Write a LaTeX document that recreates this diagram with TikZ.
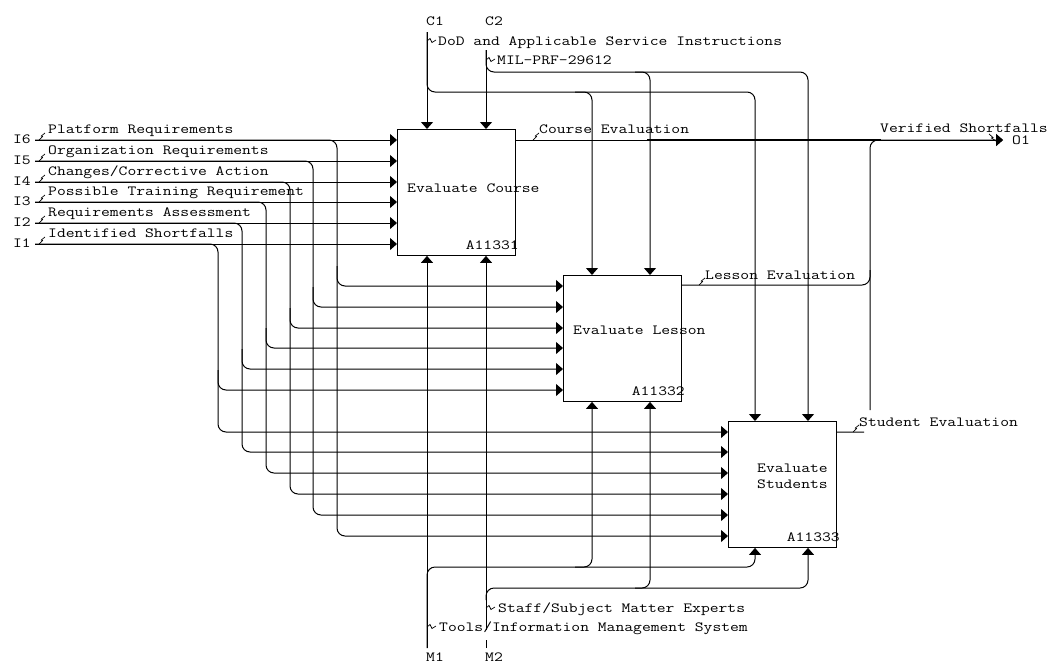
\documentclass[tikz,border=0pt]{standalone}
\usepackage{fontspec}
\setmonofont[FakeStretch=1.223]{Latin Modern Mono}
\usetikzlibrary{arrows.meta}
\begin{document}
\begin{tikzpicture}[x=1pt,y=-1pt,
  every node/.style={font=\ttfamily\fontsize{14}{16}\selectfont, inner sep=0pt},
  lbl/.style={anchor=base west},
  num/.style={anchor=base east},
  func/.style={draw, line width=0.9pt, minimum height=126pt, anchor=north west},
  flow/.style={line width=1pt, rounded corners=8pt},
  arr/.style={flow, -{Triangle[length=7pt,width=12pt]}},
  sq/.style={line width=0.7pt},
  heavy/.style={line width=2.4pt},
  zig/.pic={\draw[sq] (0,0) -- (3.5,-3.5) -- (2.3,-4) -- (6,-7);},
  hzig/.pic={\draw[sq] (0,0) -- (3,-2.5) -- (5,1.5) -- (9,-1);}
]
\useasboundingbox (0,0) rectangle (1054,665);

% activity boxes
\node[func, minimum width=118pt] (b1) at (397,129) {};
\node[func, minimum width=118pt] (b2) at (563,275) {};
\node[func, minimum width=108pt] (b3) at (728,421) {};

\node[lbl] (t1) at (407,192) {Evaluate Course};
\node[lbl] (t2) at (573,334) {Evaluate Lesson};
\node[lbl] (t3a) at (757,472) {Evaluate};
\node[lbl] (t3b) at (757,488) {Students};

\node[num] (id1) at (b1.south east) [xshift=3pt, yshift=6pt] {A11331};
\node[num] (id2) at (b2.south east) [xshift=3pt, yshift=6pt] {A11332};
\node[num] (id3) at (b3.south east) [xshift=3pt, yshift=6pt] {A11333};

% inputs and their branches to the lower boxes
\foreach \n/\y/\x/\ya/\yb/\txt in {
  6/140/337/286/536/Platform Requirements,
  5/161/313/307/515/Organization Requirements,
  4/182/290/328/494/Changes\slash Corrective Action,
  3/202/266/348/473/Possible Training Requirement,
  2/223/242/369/452/Requirements Assessment,
  1/244/218/390/432/Identified Shortfalls} {
  \coordinate (I\n) at (35,\y);
  \node[num] (nI\n) at (31,\y+3.5) {I\n};
  \node[lbl] (lI\n) at (48,\y-6.5) {\txt};
  \pic at (39,\y) {zig};
  \draw[arr] (I\n) -- (I\n -| b1.west);
  \draw[arr] (I\n) -- (I\n -| \x,0) -- (\x,\yb) -- (b3.west |- 0,\yb);
  \draw[arr] (\x,\ya-20) -- (\x,\ya) -- (b2.west |- 0,\ya);
}

% controls
\coordinate (C1) at (427,32);
\coordinate (C2) at (486,50);
\node[lbl] (nC1) at (426,25) {C1};
\node[lbl] (nC2) at (485,25) {C2};
\node[lbl] (lC1) at (438,45) {DoD and Applicable Service Instructions};
\node[lbl] (lC2) at (497,64) {MIL-PRF-29612};
\pic at (427,41) {hzig};
\pic at (486,60) {hzig};
\draw[arr] (C1) -- (C1 |- b1.north);
\draw[arr] (C1) -- (427,92) -- (755,92) -- (b3.north -| 755,0);
\draw[arr] (575,92) -- (592,92) -- (b2.north -| 592,0);
\draw[arr] (C2) -- (C2 |- b1.north);
\draw[arr] (C2) -- (486,72) -- (808,72) -- (b3.north -| 808,0);
\draw[arr] (635,72) -- (650,72) -- (b2.north -| 650,0);

% mechanisms
\coordinate (M1) at (427,648);
\coordinate (M2) at (486,648);
\node[lbl] (nM1) at (426,661) {M1};
\node[lbl] (nM2) at (485,661) {M2};
\node[lbl] (lM2) at (498,612) {Staff/Subject Matter Experts};
\node[lbl] (lM1) at (439,631) {Tools/Information Management System};
\pic at (486,608) {hzig};
\pic at (427,627) {hzig};
\draw[arr] (M1) -- (M1 |- b1.south);
\draw[arr] (M1) -- (427,567) -- (755,567) -- (b3.south -| 755,0);
\draw[arr] (575,567) -- (592,567) -- (b2.south -| 592,0);
\draw[arr] (M2) -- ++(0,-8) ++(0,-10) -- (M2 |- b1.south);
\draw[arr] (486,600) -- (486,588) -- (808,588) -- (b3.south -| 808,0);
\draw[arr] (635,588) -- (650,588) -- (b2.south -| 650,0);

% outputs
\coordinate (O1) at (1003,140);
\node[lbl] (nO1) at (1012,144) {O1};
\node[lbl] (lO1) at (880,132) {Verified Shortfalls};
\node[lbl] (lB1) at (539,133) {Course Evaluation};
\node[lbl] (lB2) at (705,279) {Lesson Evaluation};
\node[lbl] (lB3) at (859,426) {Student Evaluation};
\pic at (533,140) {zig};
\pic at (699,285) {zig};
\pic at (853,432) {zig};
\draw[sq] (989,134) -- (993,137.5) -- (991.5,138) -- (996,141);
\draw[arr] (b1.east |- O1) -- (O1);
\draw[flow] (b2.east |- 0,285) -- (870,285) -- (870,270);
\draw[arr] (b3.east |- 0,432) -- (864,432) (870,410) -- (870,140) -- (O1);
\draw[heavy] (647,140) -- (881,140);
\end{tikzpicture}
\end{document}
